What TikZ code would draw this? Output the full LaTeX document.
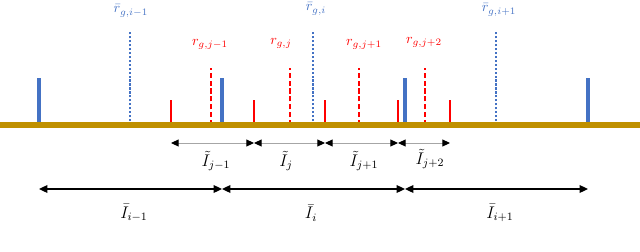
\documentclass[tikz,border=0pt]{standalone}
\usepackage{tikz}
\usetikzlibrary{arrows.meta}
\definecolor{ground}{HTML}{BF9000}
\definecolor{coarseblue}{HTML}{4472C4}
\definecolor{finered}{HTML}{FF0000}
\tikzset{
  coarsebar/.style={color=coarseblue, line width=2.4pt},
  coarsemid/.style={color=coarseblue, line width=0.9pt, dash pattern=on 1.6pt off 1.2pt},
  finebar/.style={color=finered, line width=1pt},
  finemid/.style={color=finered, line width=1.6pt, dash pattern=on 3.6pt off 2pt},
  finespan/.style={draw=gray!70, line width=0.7pt, {Triangle[black,length=5.5pt,width=5pt]}-{Triangle[black,length=5.5pt,width=5pt]}},
  coarsespan/.style={draw=black, line width=0.9pt, {Triangle[black,length=6pt,width=5.5pt]}-{Triangle[black,length=6pt,width=5.5pt]}},
  lbl/.style={inner sep=0.5pt}
}
\begin{document}
\begin{tikzpicture}[x=0.025cm, y=-0.025cm]
        \useasboundingbox (0,0) rectangle (640,251);
        % coarse grid lines
        \draw[coarsebar] (39,125) -- (39,78);
        \draw[coarsebar] (222,125) -- (222,78);
        \draw[coarsebar] (405,125) -- (405,78);
        \draw[coarsebar] (588,125) -- (588,78);
        \draw[coarsemid] (130,125) -- (130,32);
        \draw[coarsemid] (313,125) -- (313,32);
        \draw[coarsemid] (496,125) -- (496,32);
        % fine grid lines
        \draw[finebar] (171,125) -- (171,100);
        \draw[finebar] (254,125) -- (254,100);
        \draw[finebar] (325,125) -- (325,100);
        \draw[finebar, line width=0.8pt] (398,125) -- (398,100);
        \draw[finebar] (450,125) -- (450,100);
        \draw[finemid] (211,125) -- (211,68);
        \draw[finemid] (290,125) -- (290,68);
        \draw[finemid] (359,125) -- (359,68);
        \draw[finemid] (425,125) -- (425,68);
        % ground
        \draw[color=ground, line width=3.6pt] (0,125) -- (640,125);
        % labels of the centres
        \node[lbl, text=coarseblue] (rb1) at (131,11) {$\bar{r}_{g,i-1}$};
        \node[lbl, text=coarseblue] (rb2) at (316,9) {$\bar{r}_{g,i}$};
        \node[lbl, text=coarseblue] (rb3) at (499,10) {$\bar{r}_{g,i+1}$};
        \node[lbl, text=finered] (rf1) at (210,44) {$r_{g,j-1}$};
        \node[lbl, text=finered] (rf2) at (281,43) {$r_{g,j}$};
        \node[lbl, text=finered] (rf3) at (364,44) {$r_{g,j+1}$};
        \node[lbl, text=finered] (rf4) at (424,42) {$r_{g,j+2}$};
        % fine intervals
        \coordinate (f0) at (171,143);
        \coordinate (f1) at (254,143);
        \coordinate (f2) at (325,143);
        \coordinate (f3) at (398,143);
        \coordinate (f4) at (450,143);
        \draw[finespan] (f0) -- (f1);
        \draw[finespan] (f1) -- (f2);
        \draw[finespan] (f2) -- (f3);
        \draw[finespan] (f3) -- (f4);
        \node[lbl] (it1) at (216,161) {\large$\tilde{I}_{j-1}$};
        \node[lbl] (it2) at (286,161) {\large$\tilde{I}_{j}$};
        \node[lbl] (it3) at (364,161) {\large$\tilde{I}_{j+1}$};
        \node[lbl] (it4) at (430,159) {\large$\tilde{I}_{j+2}$};
        % coarse intervals
        \coordinate (c0) at (39,189);
        \coordinate (c1) at (222,189);
        \coordinate (c2) at (405,189);
        \coordinate (c3) at (588,189);
        \draw[coarsespan] (c0) -- (c1);
        \draw[coarsespan] (c1) -- (c2);
        \draw[coarsespan] (c2) -- (c3);
        \node[lbl] (ib1) at (134,213) {\large$\bar{I}_{i-1}$};
        \node[lbl] (ib2) at (311,213) {\large$\bar{I}_{i}$};
        \node[lbl] (ib3) at (500,213) {\large$\bar{I}_{i+1}$};
\end{tikzpicture}
\end{document}
